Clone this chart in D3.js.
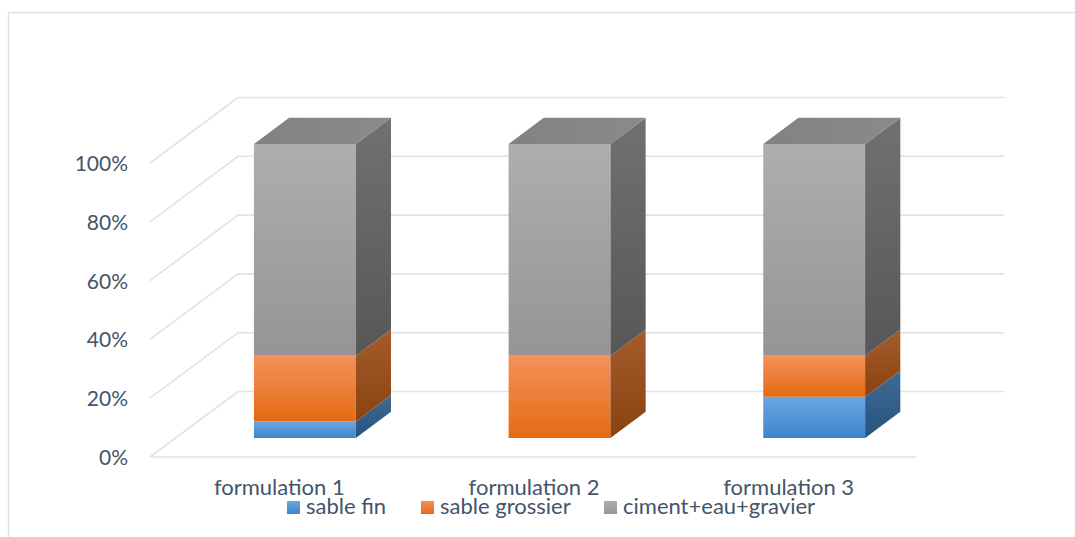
<!DOCTYPE html>
<html>
<head>
<meta charset="utf-8">
<script src="https://cdn.jsdelivr.net/npm/d3@7"></script>
<style>
  html, body { margin: 0; padding: 0; background: #ffffff; }
  svg { display: block; font-family: Lato, "Open Sans", sans-serif; }
</style>
</head>
<body>
<svg id="chart" width="1075" height="537"></svg>
<script>
// Category labels and per-series shares (percent of each formulation)
const categories = ["formulation 1", "formulation 2", "formulation 3"];
const sableFin = [5.6, 0, 14];
const sableGrossier = [22.4, 28, 14];
const cimentEauGravier = [72, 72, 72];
const seriesNames = ["sable fin", "sable grossier", "ciment+eau+gravier"];
const tickValues = [0, 0.2, 0.4, 0.6, 0.8, 1];

const svg = d3.select("#chart");
const W = 1075, H = 537;

// chart area frame
svg.append("rect")
  .attr("x", 8.5).attr("y", 12.5)
  .attr("width", W).attr("height", H)
  .attr("fill", "none").attr("stroke", "#dde1e6").attr("stroke-width", 1.5);

// front plane scales + oblique depth projection
const x = d3.scaleBand().domain(categories).range([152, 916])
  .paddingInner(0.6).paddingOuter(0.3);
const y = d3.scaleLinear().domain([0, 1]).range([457, 163]);
const depth = d3.scaleLinear().domain([0, 1]).range([0, 1]);
const DX = 88, DY = -65.5;
const proj = (px, v, z) => [px + DX * depth(z), y(v) + DY * depth(z)];

// stacked 100% data
const rows = categories.map((c, i) => ({
  cat: c,
  "sable fin": sableFin[i],
  "sable grossier": sableGrossier[i],
  "ciment+eau+gravier": cimentEauGravier[i]
}));
const stack = d3.stack().keys(seriesNames).offset(d3.stackOffsetExpand);
const layers = stack(rows);

// fills: front face, side face, top face
const palette = {
  "sable fin":          { front: ["#6ba7e0", "#3f84ca"], side: ["#3f6a93", "#285380"], top: ["#5b93c8", "#5b93c8"] },
  "sable grossier":     { front: ["#f3925a", "#e56a14"], side: ["#a45c2e", "#8a4210"], top: ["#d9743a", "#d9743a"] },
  "ciment+eau+gravier": { front: ["#aeaeae", "#959595"], side: ["#717171", "#575757"], top: ["#828282", "#8a8a8a"] }
};

const defs = svg.append("defs");
function grad(id, c, horizontal) {
  const g = defs.append("linearGradient").attr("id", id)
    .attr("x1", 0).attr("y1", 0)
    .attr("x2", horizontal ? 1 : 0).attr("y2", horizontal ? 0 : 1);
  g.append("stop").attr("offset", "0%").attr("stop-color", c[0]);
  g.append("stop").attr("offset", "100%").attr("stop-color", c[1]);
}
seriesNames.forEach((s, i) => {
  grad("f" + i, palette[s].front, false);
  grad("s" + i, palette[s].side, false);
  grad("t" + i, palette[s].top, true);
});

// gridlines: left wall diagonal + back wall horizontal
const grid = svg.append("g").attr("fill", "none")
  .attr("stroke", "#dfe2e9").attr("stroke-width", 1.6);
const xL = 152, xR = 916;
tickValues.forEach(v => {
  const a = proj(xL - 2, v, 0), b = proj(xL - 2, v, 1), c = proj(xR, v, 1);
  grid.append("path").attr("d", d3.line()([a, b, c]));
});
// floor front edge
grid.append("path").attr("d", d3.line()([proj(xL, 0, 0), proj(xR, 0, 0)]));

// y tick labels
const textColor = "#44546a";
svg.append("g").selectAll("text").data(tickValues).join("text")
  .attr("x", 128).attr("y", d => y(d) + 8)
  .attr("text-anchor", "end")
  .attr("fill", textColor).attr("font-size", 21)
  .text(d3.format(".0%"));

// bars
const z0 = 0.29, z1 = 0.69;
const bars = svg.append("g");
categories.forEach((c, ci) => {
  const xa = x(c), xb = x(c) + x.bandwidth();
  let topIdx = -1;
  layers.forEach((L, li) => { if (L[ci][1] - L[ci][0] > 0) topIdx = li; });
  layers.forEach((L, li) => {
    const [v0, v1] = L[ci];
    if (v1 - v0 <= 0) return;
    const front = [proj(xa, v0, z0), proj(xb, v0, z0), proj(xb, v1, z0), proj(xa, v1, z0)];
    const side = [proj(xb, v0, z0), proj(xb, v0, z1), proj(xb, v1, z1), proj(xb, v1, z0)];
    bars.append("path").attr("d", d3.line()(front) + "Z").attr("fill", `url(#f${li})`);
    bars.append("path").attr("d", d3.line()(side) + "Z").attr("fill", `url(#s${li})`);
    if (li === topIdx) {
      const top = [proj(xa, v1, z0), proj(xb, v1, z0), proj(xb, v1, z1), proj(xa, v1, z1)];
      bars.append("path").attr("d", d3.line()(top) + "Z").attr("fill", `url(#t${li})`);
    }
  });
});

// category labels
svg.append("g").selectAll("text").data(categories).join("text")
  .attr("x", d => x(d) + x.bandwidth() / 2)
  .attr("y", 495)
  .attr("text-anchor", "middle")
  .attr("fill", textColor).attr("font-size", 22)
  .text(d => d);

// legend
const legendX = [287, 421, 604];
const leg = svg.append("g");
seriesNames.forEach((s, i) => {
  leg.append("rect").attr("x", legendX[i]).attr("y", 501)
    .attr("width", 13).attr("height", 13).attr("fill", `url(#f${i})`);
  leg.append("text").attr("x", legendX[i] + 19).attr("y", 514)
    .attr("fill", textColor).attr("font-size", 22).text(s);
});
</script>
</body>
</html>
